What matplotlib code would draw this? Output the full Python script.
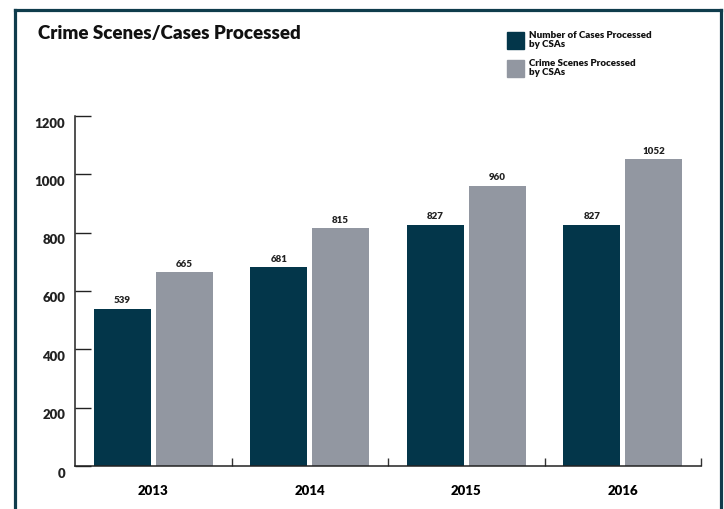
import matplotlib
matplotlib.use("Agg")
import matplotlib.pyplot as plt
import matplotlib.transforms as mtransforms
from matplotlib.patches import Rectangle
from matplotlib.lines import Line2D
import numpy as np

years = ["2013", "2014", "2015", "2016"]
cases = [539, 681, 827, 827]
scenes = [665, 815, 960, 1052]
series_names = ["Number of Cases Processed\nby CSAs", "Crime Scenes Processed\nby CSAs"]
y_ticks = [0, 200, 400, 600, 800, 1000, 1200]

dark = "#03364a"
grey = "#9297a1"
frame = "#0f3c4c"

plt.rcParams["font.family"] = ["Lato", "DejaVu Sans"]
plt.rcParams["font.weight"] = "bold"

fig = plt.figure(figsize=(7.24, 5.09), dpi=100)
ax = fig.add_axes([75 / 724, 1 - 466 / 509, 626 / 724, 350 / 509])

x = np.arange(len(years))
w = 0.364
off = 0.198
b1 = ax.bar(x - off, cases, w, color=dark)
b2 = ax.bar(x + off, scenes, w, color=grey)
for bars, vals in [(b1, cases), (b2, scenes)]:
    for r, v in zip(bars, vals):
        ax.text(r.get_x() + r.get_width() / 2, v + 12, str(v), ha="center", va="bottom",
                fontsize=7, fontweight="heavy", color="#222222")

ax.set_xlim(-0.5, 3.5)
ax.set_ylim(0, 1200)
ax.set_yticks(y_ticks)
ax.set_yticklabels([str(t) for t in y_ticks], fontsize=9.5, fontweight="heavy")
ax.tick_params(axis="y", direction="in", length=11.5, width=1, pad=7, colors="#222222")
# y labels sit a little below their tick marks
shift = mtransforms.ScaledTranslation(0, -6.5 / 100, fig.dpi_scale_trans)
for lab in ax.get_yticklabels():
    lab.set_transform(lab.get_transform() + shift)

ax.set_xticks(x)
ax.set_xticklabels(years, fontsize=9.5, fontweight="heavy")
ax.tick_params(axis="x", which="major", length=0, pad=14)
ax.set_xticks(x + 0.5, minor=True)
ax.tick_params(axis="x", which="minor", direction="in", length=6, width=1, color="#333333")
for s in ["top", "right"]:
    ax.spines[s].set_visible(False)
for s in ["left", "bottom"]:
    ax.spines[s].set_linewidth(1.1)
    ax.spines[s].set_color("#222222")

fig.text(38 / 724, 1 - 34 / 509, "Crime Scenes/Cases Processed", fontsize=13.5,
         fontweight="heavy", va="center", ha="left", color="#111111")

# legend squares and labels
for i, (name, c) in enumerate(zip(series_names, [dark, grey])):
    top = 32 + i * 28
    fig.patches.append(Rectangle((507 / 724, 1 - (top + 17) / 509), 17 / 724, 17 / 509,
                                 transform=fig.transFigure, color=c))
    fig.text(529 / 724, 1 - (top + 8) / 509, name, fontsize=7, fontweight="heavy",
             va="center", ha="left", linespacing=0.9, color="#111111")

# outer frame: left, top and right edges
lw = 2.3
fig.add_artist(Line2D([14.5 / 724, 14.5 / 724], [0, 1 - 9.5 / 509], transform=fig.transFigure,
                      color=frame, lw=lw, solid_capstyle="projecting"))
fig.add_artist(Line2D([14.5 / 724, 720.5 / 724], [1 - 9.5 / 509, 1 - 9.5 / 509],
                      transform=fig.transFigure, color=frame, lw=lw, solid_capstyle="projecting"))
fig.add_artist(Line2D([720.5 / 724, 720.5 / 724], [0, 1 - 9.5 / 509], transform=fig.transFigure,
                      color=frame, lw=lw, solid_capstyle="projecting"))

fig.savefig("out.png", dpi=100)
